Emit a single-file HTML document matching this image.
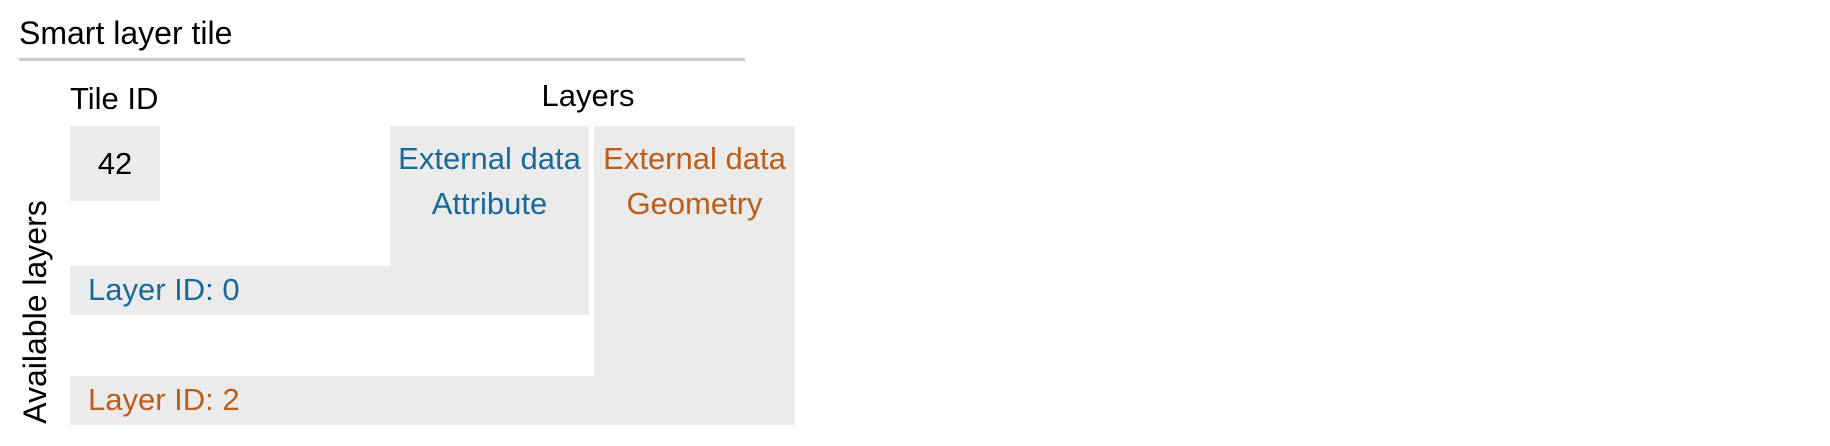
<!DOCTYPE html>
<html><head><meta charset="utf-8"><style>
body{margin:0;width:1830px;height:446px;background:#fff;position:relative;overflow:hidden;font-family:"Liberation Sans",sans-serif;}
.b{position:absolute;background:#ebebeb;}
.t{position:absolute;font-size:31px;line-height:44px;white-space:nowrap;color:#000;}
.c{text-align:center}
.blue{color:#186a9a}.or{color:#bc5e1a}
</style></head><body>
<div class="t" style="left:19px;top:13px;font-size:32px;line-height:40px;">Smart layer tile</div>
<div style="position:absolute;left:19px;top:58px;width:726px;height:3px;background:#cccccc"></div>
<div class="t" style="left:70px;top:77px;">Tile ID</div>
<div class="t c" style="left:488px;width:200px;top:74px;">Layers</div>
<div class="b" style="left:70px;top:126px;width:90px;height:75px"></div>
<div class="t c" style="left:70px;width:90px;top:142px;">42</div>
<div class="b" style="left:390px;top:126px;width:199px;height:189px"></div>
<div class="b" style="left:70px;top:266px;width:519px;height:49px"></div>
<div class="b" style="left:594px;top:126px;width:201px;height:299px"></div>
<div class="b" style="left:70px;top:376px;width:725px;height:49px"></div>
<div class="t c blue" style="left:390px;width:199px;top:136px;line-height:45px;">External data<br>Attribute</div>
<div class="t c or" style="left:594px;width:201px;top:136px;line-height:45px;">External data<br>Geometry</div>
<div class="t blue" style="left:88px;top:268px;">Layer ID: 0</div>
<div class="t or" style="left:88px;top:378px;">Layer ID: 2</div>
<div class="t c" style="left:-85px;width:240px;top:290px;font-size:32px;transform:rotate(-90deg);">Available layers</div>
</body></html>
